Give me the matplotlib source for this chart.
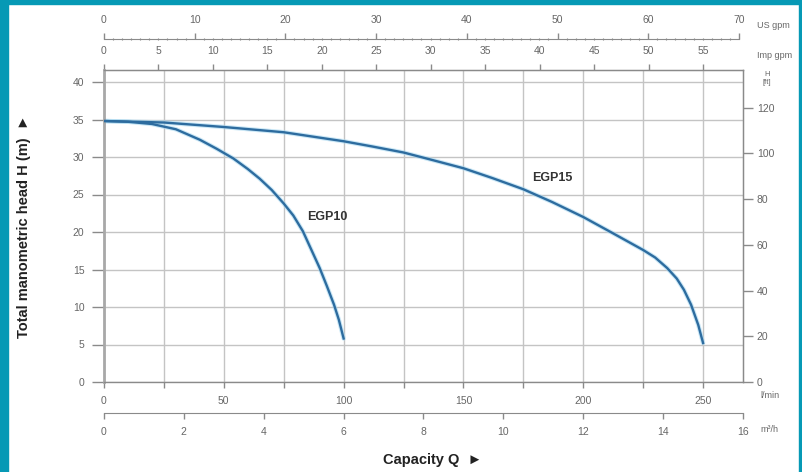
import numpy as np
import matplotlib
matplotlib.use("Agg")
import matplotlib.pyplot as plt
from matplotlib.patches import Rectangle
from matplotlib.ticker import MultipleLocator, NullLocator

plt.rcParams['font.family'] = ['Liberation Sans', 'DejaVu Sans']

# pump curves, capacity in l/min, head in m
egp10_q = [0, 10, 20, 30, 40, 47, 54, 60, 65, 70, 75, 79, 83, 87, 90, 93, 96, 98, 100]
egp10_h = [34.8, 34.7, 34.4, 33.7, 32.3, 31.1, 29.8, 28.4, 27.1, 25.6, 23.8, 22.2, 20.1,
           17.3, 15.2, 12.8, 10.3, 8.3, 5.8]
egp15_q = [0, 25, 50, 75, 100, 112, 125, 137, 150, 162, 175, 187, 200, 212, 225, 230,
           235, 239, 242, 245, 248, 250]
egp15_h = [34.8, 34.6, 34.0, 33.3, 32.1, 31.4, 30.6, 29.6, 28.5, 27.2, 25.7, 24.0, 22.0,
           19.9, 17.6, 16.6, 15.2, 13.8, 12.3, 10.3, 7.6, 5.2]
labels = ["EGP10", "EGP15"]
label_pos = [(93, 22.0), (187, 27.2)]

lpm_ticks = [0, 50, 100, 150, 200, 250]
m3h_ticks = [0, 2, 4, 6, 8, 10, 12, 14, 16]
imp_ticks = [0, 5, 10, 15, 20, 25, 30, 35, 40, 45, 50, 55]
us_ticks = [0, 10, 20, 30, 40, 50, 60, 70]
h_ticks = [0, 5, 10, 15, 20, 25, 30, 35, 40]
ft_ticks = [0, 20, 40, 60, 80, 100, 120]

W, H = 803, 472
TEAL = '#0699b5'
GRID = '#c4c4c4'
AX = '#8a8a8a'
TXT = '#666666'
LINE = '#2d6c9f'
TS = 7.5

fig = plt.figure(figsize=(W / 100, H / 100), dpi=100)

def fx(px):
    return px / W

def fy(py):
    return 1 - py / H

x0, x1, ytop, ybot = 104, 743, 70, 382
ax = fig.add_axes([fx(x0), fy(ybot), fx(x1 - x0), (ybot - ytop) / H])
ax.set_xlim(0, 16 * 1000 / 60)
ax.set_ylim(0, 41.6)

# grid
for h in h_ticks:
    ax.axhline(h, color=GRID, lw=1.0, zorder=1)
for q in np.arange(0, 251, 25):
    ax.axvline(q, color=GRID, lw=1.0, zorder=1)

# curves
for qq, hh in [(egp10_q, egp10_h), (egp15_q, egp15_h)]:
    ax.plot(qq, hh, color='#a8d8f0', lw=3.2, alpha=0.6, zorder=2, solid_capstyle='round')
    ax.plot(qq, hh, color=LINE, lw=1.7, zorder=3)
for lab, (lx, ly) in zip(labels, label_pos):
    ax.text(lx, ly, lab, ha='center', va='center', fontsize=9, fontweight='bold', color='#333333')

for s in ax.spines.values():
    s.set_color(AX)
    s.set_linewidth(1.0)
ax.spines['left'].set_linewidth(2.0)
ax.spines['left'].set_color('#a8a8a8')

ax.set_yticks(h_ticks)
ax.tick_params(axis='y', length=9, width=1, color=AX, labelsize=TS, labelcolor=TXT, pad=5)
ax.set_xticks(lpm_ticks)
ax.xaxis.set_minor_locator(MultipleLocator(25))
ax.tick_params(axis='x', which='both', length=4, width=1, color=AX, labelsize=TS, labelcolor=TXT, pad=6)

# bottom m3/h axis
sec_m3 = ax.secondary_xaxis(-31 / (ybot - ytop), functions=(lambda q: q * 0.06, lambda m: m / 0.06))
sec_m3.set_xticks(m3h_ticks)
sec_m3.xaxis.set_minor_locator(NullLocator())
sec_m3.tick_params(length=4, width=1, color=AX, labelsize=TS, labelcolor=TXT, pad=6)
for s in sec_m3.spines.values():
    s.set_color(AX)

# top Imp gpm axis (on the frame)
IMP = 4.54609
sec_imp = ax.secondary_xaxis('top', functions=(lambda q: q / IMP, lambda g: g * IMP))
sec_imp.set_xticks(imp_ticks)
sec_imp.xaxis.set_minor_locator(NullLocator())
sec_imp.tick_params(length=4, width=1, color=AX, labelsize=TS, labelcolor=TXT, pad=6)
for s in sec_imp.spines.values():
    s.set_color(AX)

# top US gpm axis
USG = 3.78541
sec_us = ax.secondary_xaxis(1 + 31 / (ybot - ytop), functions=(lambda q: q / USG, lambda g: g * USG))
sec_us.set_xticks(us_ticks)
sec_us.xaxis.set_minor_locator(MultipleLocator(1))
sec_us.tick_params(which='major', length=4, width=1, color=AX, labelsize=TS, labelcolor=TXT, pad=6)
sec_us.tick_params(which='minor', length=2, width=0.8, color=AX, direction='inout')
for s in sec_us.spines.values():
    s.set_color(AX)
sec_us.spines['top'].set_bounds(0, 70)

# right ft axis
FT = 3.28084
sec_ft = ax.secondary_yaxis('right', functions=(lambda m: m * FT, lambda f: f / FT))
sec_ft.set_yticks(ft_ticks)
sec_ft.yaxis.set_minor_locator(NullLocator())
sec_ft.tick_params(length=7, width=1, color=AX, labelsize=TS, labelcolor=TXT, pad=3)
for s in sec_ft.spines.values():
    s.set_color(AX)

# unit labels
unit_kw = dict(fontsize=6.5, color=TXT, ha='left', va='center')
fig.text(fx(757), fy(25), "US gpm", **unit_kw)
fig.text(fx(757), fy(55), "Imp gpm", **unit_kw)
fig.text(fx(767), fy(74), "H", fontsize=5.5, color=TXT, ha='center', va='center')
fig.text(fx(767), fy(83), "[ft]", fontsize=5.5, color=TXT, ha='center', va='center')
fig.text(fx(760), fy(396), "l/min", **unit_kw)
fig.text(fx(760), fy(430), "m³/h", **unit_kw)

# axis titles
fig.text(fx(383), fy(460), "Capacity Q  ►", fontsize=10.5, fontweight='bold', color='#222222',
         ha='left', va='center')
fig.text(fx(24), fy(226), "Total manometric head H (m)  ►", fontsize=10.5, fontweight='bold',
         color='#222222', rotation=90, ha='center', va='center')

# teal frame
fig.patches.append(Rectangle((0, 0), fx(8), 1, transform=fig.transFigure, color=TEAL, zorder=10))
fig.patches.append(Rectangle((0, fy(4)), 1, 4 / H, transform=fig.transFigure, color=TEAL, zorder=10))
fig.patches.append(Rectangle((fx(799), 0), 4 / W, 1, transform=fig.transFigure, color=TEAL, zorder=10))

fig.savefig("out.png", dpi=100)
